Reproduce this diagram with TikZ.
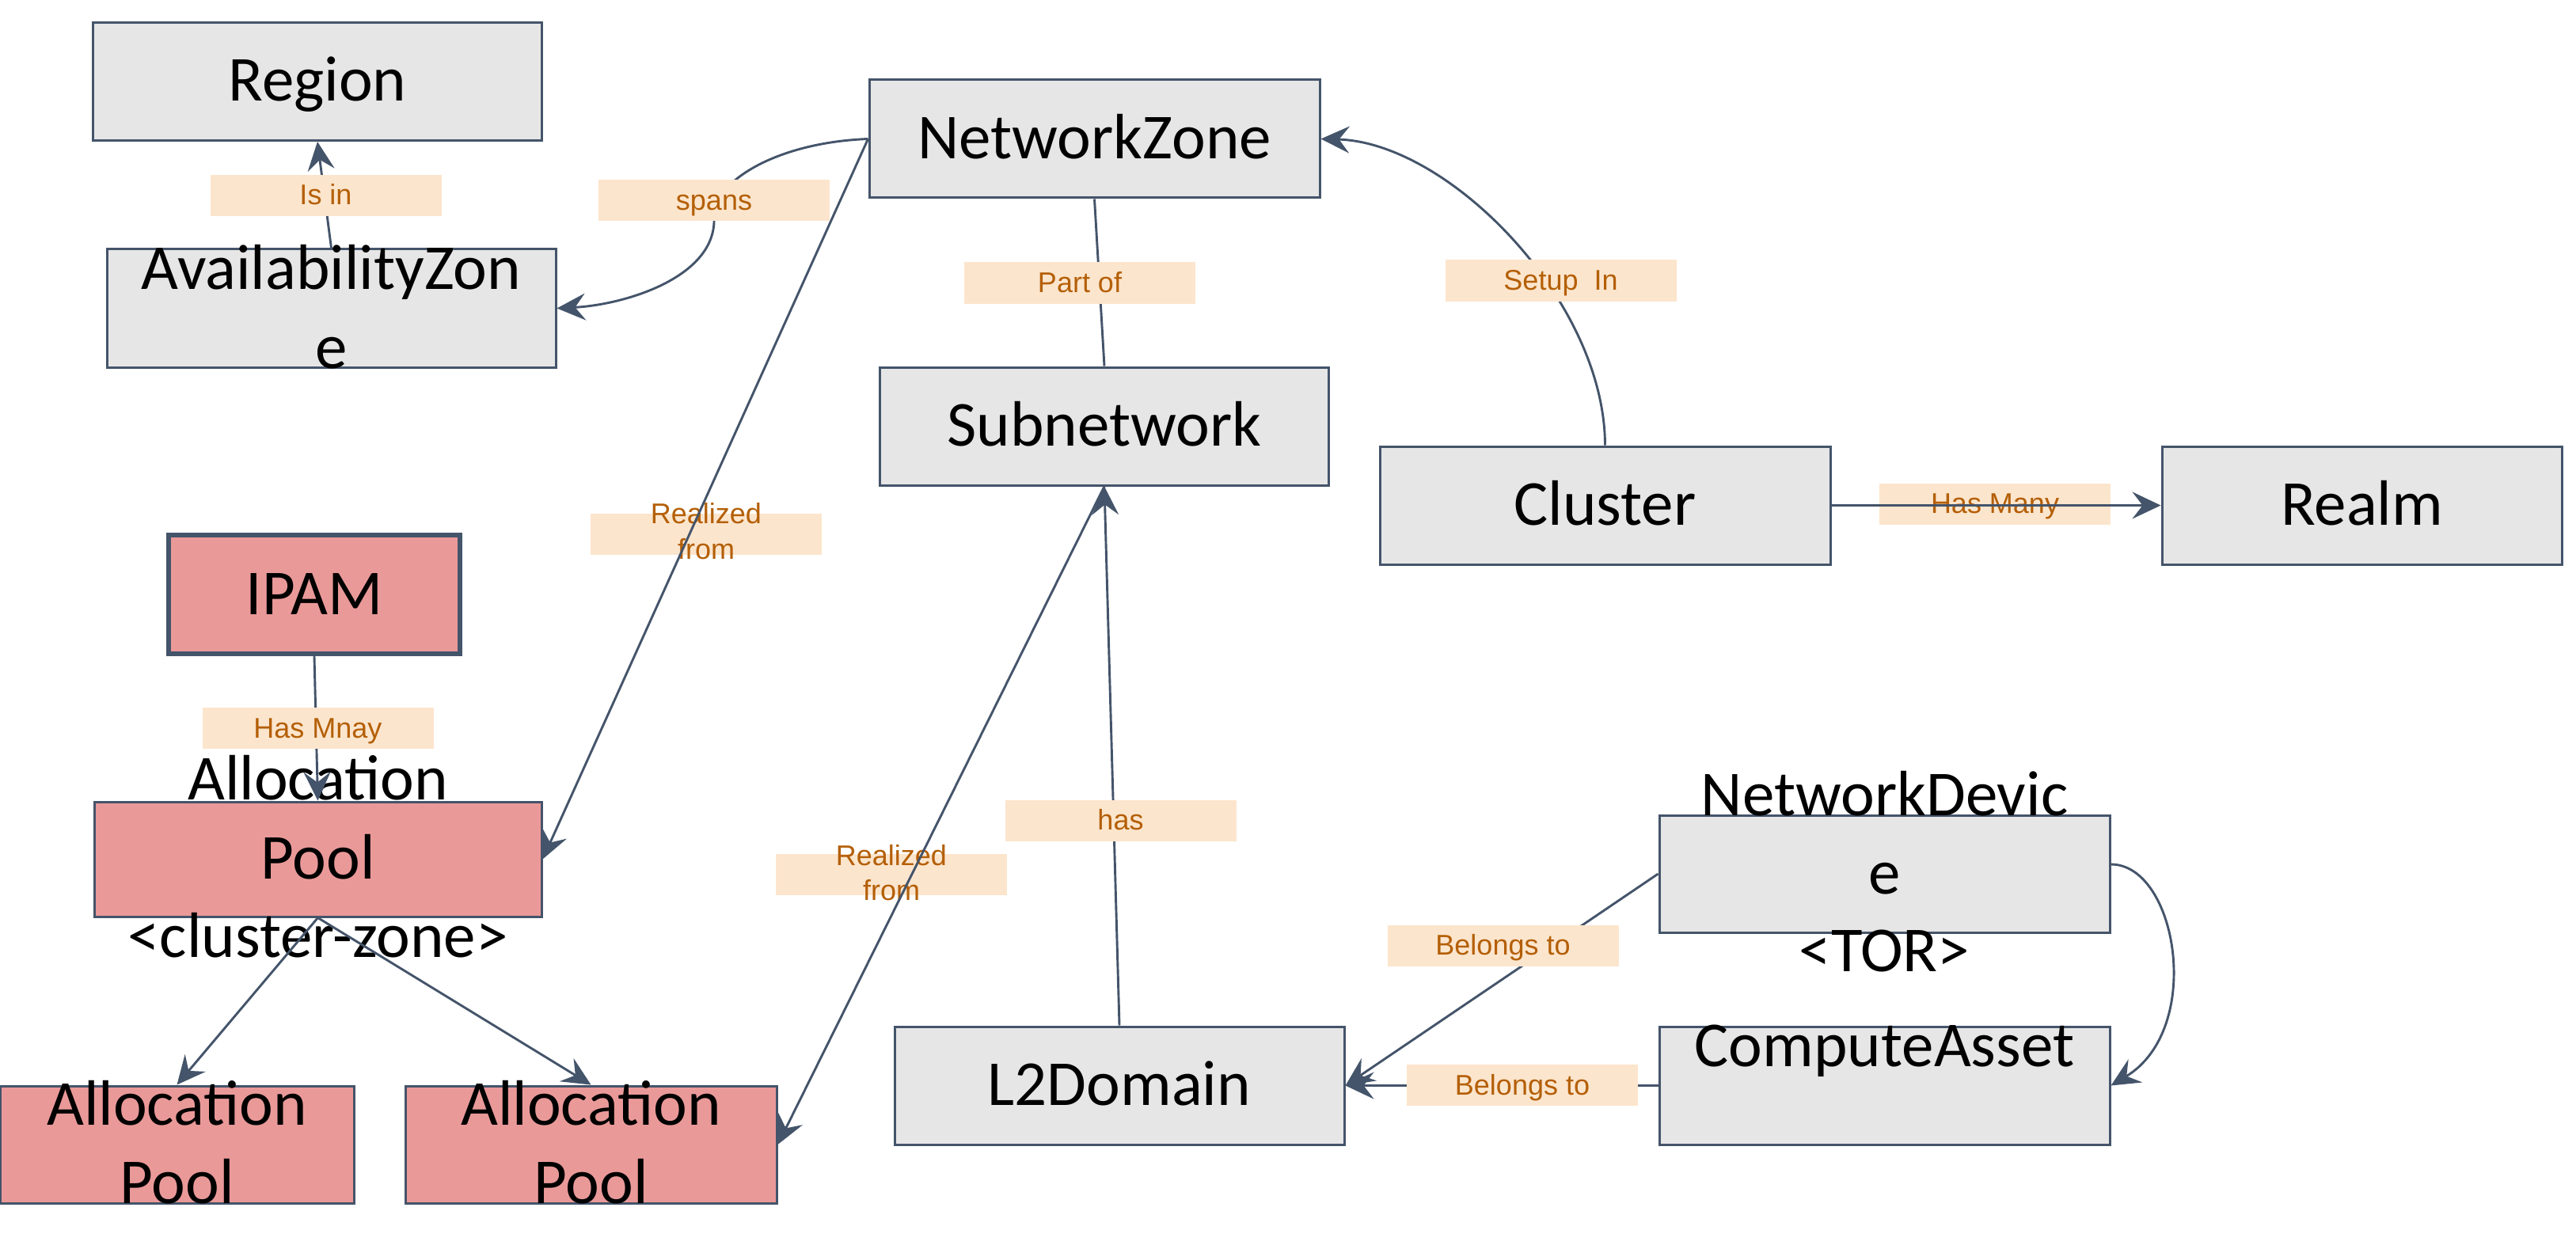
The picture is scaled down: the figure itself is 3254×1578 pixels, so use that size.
\documentclass[tikz,border=0pt]{standalone}
\usepackage{fontspec}
\setmainfont{Carlito}
\newfontfamily\lblfont{Liberation Sans}
\usetikzlibrary{arrows.meta}
\definecolor{edgecol}{HTML}{44546A}
\definecolor{boxgray}{HTML}{E6E6E6}
\definecolor{boxred}{HTML}{EA9999}
\definecolor{lblfill}{HTML}{FCE5CD}
\definecolor{lbltext}{HTML}{B45F06}
\begin{document}
\begin{tikzpicture}[x=1pt,y=-1pt,
  box/.style={draw=edgecol, line width=3pt, fill=boxgray, inner sep=0pt,
    minimum width=567pt, minimum height=149pt,
    font=\fontsize{81}{99}\selectfont, text height=70pt, text depth=20pt},
  redbox/.style={box, fill=boxred},
  txt/.style={font=\fontsize{81}{99}\selectfont, inner sep=0pt, anchor=base},
  lbl/.style={fill=lblfill, inner sep=0pt, minimum width=292pt, minimum height=52pt,
    text=lbltext, font=\lblfont\fontsize{36}{45}\selectfont, text height=30pt, text depth=6pt},
  lbltxt/.style={text=lbltext, font=\lblfont\fontsize{36}{45}\selectfont, inner sep=0pt, anchor=base},
  conn/.style={draw=edgecol, line width=2.9pt},
  arr/.style={conn, -{Stealth[length=36pt,width=34pt,inset=13pt]}}
]
\useasboundingbox (0,0) rectangle (3254,1578);
\fill[white] (0,0) rectangle (3254,1578);

% boxes
\node[box] (region) at (401,103) {Region};
\node[box] (az) at (418.5,389.5) {};
\node[box, minimum width=569pt] (nz) at (1382.5,175.5) {NetworkZone};
\node[box] (sub) at (1395,538.5) {Subnetwork};
\node[box, minimum width=569pt] (cluster) at (2027.5,638.5) {Cluster};
\node[box, minimum width=505pt] (realm) at (2983.5,638.5) {Realm};
\node[redbox, line width=6pt, minimum width=368pt, minimum height=150pt] (ipam) at (397,751) {IPAM};
\node[redbox, minimum width=565pt, minimum height=145pt] (apc) at (401.5,1085.5) {};
\node[redbox, minimum width=447pt, minimum height=148pt] (apl) at (223.5,1446) {};
\node[redbox, minimum width=469pt, minimum height=148pt] (apr) at (746.5,1446) {};
\node[box, minimum width=568pt] (l2) at (1414,1371.5) {L2Domain};
\node[box, minimum width=569pt, minimum height=148pt] (nd) at (2380.5,1104) {};
\node[box, minimum width=569pt] (ca) at (2380.5,1371.5) {};

% wrapped box texts
\node[txt] (aztxa) at (418.5,366) {AvailabilityZon};
\node[txt] (aztxb) at (418.5,465) {e};
\node[txt] (apctxa) at (401.5,1010) {Allocation};
\node[txt] (apctxb) at (401.5,1110) {Pool};
\node[txt] (apctxc) at (401.5,1209) {<cluster-zone>};
\node[txt] (apltxa) at (223.5,1421) {Allocation};
\node[txt] (apltxb) at (223.5,1520) {Pool};
\node[txt] (aprtxa) at (746.5,1421) {Allocation};
\node[txt] (aprtxb) at (746.5,1520) {Pool};
\node[txt] (ndtxa) at (2380.5,1030) {NetworkDevic};
\node[txt] (ndtxb) at (2380.5,1129) {e};
\node[txt] (ndtxc) at (2380.5,1227) {<TOR>};
\node[txt] (catx) at (2380.5,1347) {ComputeAsset};

% connectors under labels
\coordinate (spansmid) at (902,275);
\draw[arr] (az.north) -- (region.south);
\draw[arr] (nz.west) .. controls (980,180) and (900,230) .. (spansmid)
  .. controls (905,350) and (790,385) .. (az.east);
\draw[conn] (nz.south) -- (sub.north);
\draw[arr] (cluster.north) .. controls (2027,380) and (1830,180) .. (nz.east);
\draw[arr] (ipam.south) -- (apc.north);
\draw[arr] (apc.south) -- (apl.north);
\draw[arr] (apc.south) -- (apr.north);
\draw[arr] (l2.north) -- (sub.south);
\draw[arr] (nd.west) -- (l2.east);
\draw[arr] (ca.west) -- (l2.east);
\draw[arr] ([yshift=12pt]nd.east) .. controls (2750,1092) and (2785,1300) .. (ca.east);

% labels
\node[lbl] (lisin) at (411.5,247) {Is in};
\node[lbl] (lspans) at (902,253.5) {spans};
\node[lbl] (lpart) at (1364,357.5) {Part of};
\node[lbl] (lsetup) at (1971.5,354.5) {Setup~~In};
\node[lbl] (lhasmany) at (2520,636.5) {Has Many};
\node[lbl] (lreal1) at (892,674.5) {};
\node[lbltxt] (lreal1a) at (892,661) {Realized};
\node[lbltxt] (lreal1b) at (892,706) {from};
\node[lbl] (lmnay) at (401.5,920) {Has Mnay};
\node[lbl] (lhas) at (1415.5,1036.5) {has};
\node[lbl] (lreal2) at (1126,1105) {};
\node[lbltxt] (lreal2a) at (1126,1093) {Realized};
\node[lbltxt] (lreal2b) at (1126,1137) {from};
\node[lbl] (lbel1) at (1898.5,1194.5) {Belongs to};
\node[lbl] (lbel2) at (1923,1371) {Belongs to};

% connectors drawn over labels
\draw[arr] (cluster.east) -- (realm.west);
\draw[arr] (nz.west) -- (apc.east);
\draw[arr] (sub.south) -- (apr.east);
\end{tikzpicture}
\end{document}
